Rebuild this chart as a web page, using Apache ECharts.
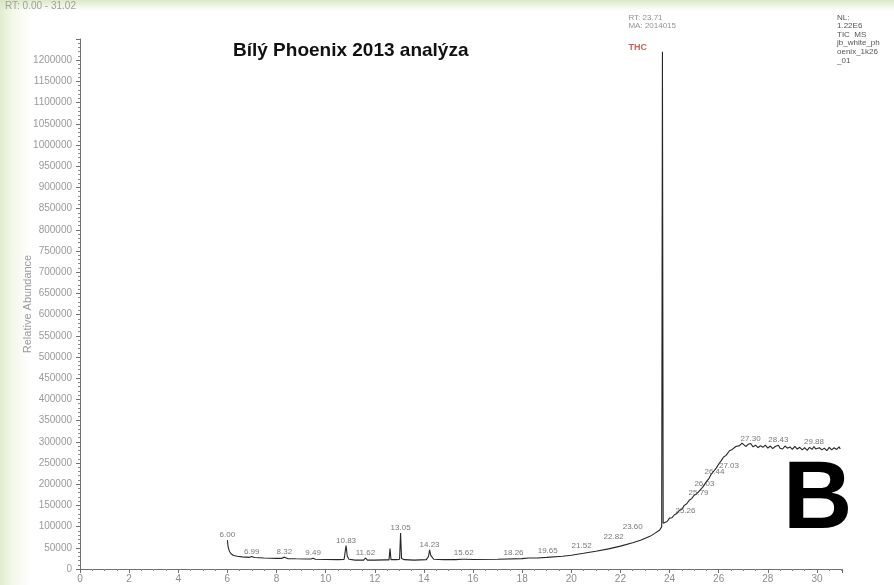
<!DOCTYPE html>
<html>
<head>
<meta charset="utf-8">
<script src="https://cdn.jsdelivr.net/npm/echarts@6/dist/echarts.min.js"></script>
<style>
  html, body { margin: 0; padding: 0; background: #ffffff; }
  #wrap {
    width: 894px; height: 585px; position: relative; overflow: hidden;
    background:
      linear-gradient(to bottom, rgba(214, 228, 192, 0.85) 0px, rgba(255, 255, 255, 0) 11px),
      linear-gradient(to right, #e2ecd0 0px, #f2f7e9 12px, #ffffff 30px);
  }
  #chart { width: 894px; height: 585px; }
</style>
</head>
<body>
<div id="wrap"><div id="chart"></div></div>
<script>
// Total ion chromatogram: retention time (min) and abundance
const rt = [
  6.00, 6.03, 6.08, 6.15, 6.25, 6.40, 6.60, 6.90, 6.99, 7.10, 7.50, 8.00, 8.20, 8.32, 8.45,
  8.80, 9.20, 9.40, 9.49, 9.58, 10.00, 10.50, 10.75, 10.83, 10.88, 10.95, 11.20, 11.55, 11.62,
  11.70, 12.00, 12.40, 12.58, 12.62, 12.66, 12.90, 13.01, 13.05, 13.09, 13.20, 13.60, 14.10,
  14.19, 14.23, 14.28, 14.40, 14.80, 15.30, 15.55, 15.62, 15.70, 16.00, 17.00, 18.00, 18.26,
  18.60, 19.00, 19.65, 20.00, 20.50, 21.00, 21.52, 22.00, 22.50, 22.82, 23.20, 23.40, 23.60,
  23.68, 23.71, 23.74, 23.80, 23.90, 24.00, 24.10, 24.20, 24.30, 24.40, 24.50, 24.60, 24.70,
  24.80, 24.90, 25.00, 25.10, 25.26, 25.35, 25.50, 25.60, 25.70, 25.79, 25.90, 26.03, 26.10,
  26.20, 26.30, 26.44, 26.55, 26.70, 26.85, 26.95, 27.03, 27.10, 27.20, 27.30, 27.40, 27.50,
  27.60, 27.70, 27.80, 27.90, 28.00, 28.10, 28.20, 28.30, 28.43, 28.50, 28.60, 28.70, 28.80,
  28.90, 29.00, 29.10, 29.20, 29.30, 29.40, 29.50, 29.60, 29.70, 29.80, 29.88, 29.95, 30.00,
  30.10, 30.20, 30.30, 30.40, 30.50, 30.60, 30.70, 30.80, 30.90, 30.95
];
const abundance = [
  68000, 52000, 42000, 36000, 32000, 30000, 28500, 27500, 29500, 27000, 26000, 25000, 25000, 28000, 24500,
  24000, 23500, 23500, 25500, 23000, 22500, 22000, 22500, 55000, 30000, 23000, 21000, 21000, 26000,
  21000, 21000, 21500, 21500, 48000, 22000, 22000, 23000, 85000, 25000, 22000, 21000, 22000,
  30000, 45000, 32000, 23000, 22000, 22000, 23000, 26000, 23000, 22500, 23000, 24500, 26000,
  26000, 27500, 30000, 32500, 37000, 42000, 47500, 54000, 62000, 68000, 77000, 84000, 92000,
  100000, 1220000, 108000, 104000, 112000, 120000, 121000, 128000, 131000, 138000, 141000, 150000, 154000,
  162000, 166000, 174000, 177000, 187000, 193000, 206000, 213000, 224000, 230000, 238000, 250000, 255000,
  264000, 268000, 279000, 282000, 289000, 291000, 297000, 293000, 289000, 294000, 296000, 288000, 292000,
  286000, 291000, 287000, 292000, 285000, 290000, 284000, 289000, 292000, 285000, 283000, 290000, 285000,
  288000, 282000, 289000, 283000, 287000, 281000, 286000, 280000, 287000, 282000, 289000, 283000, 279000,
  286000, 281000, 285000, 279000, 287000, 281000, 286000, 282000, 288000, 283000
];

// Retention times that carry a printed label, grouped by where the label sits
const peaksAbove = [6.00, 6.99, 8.32, 9.49, 10.83, 11.62, 13.05, 14.23, 15.62, 27.30, 28.43, 29.88];
const peaksNear = [18.26, 19.65];
const peaksBaseRise = [21.52, 22.82, 23.60];
const peaksRamp = [25.26, 25.79, 26.03, 26.44, 27.03];

// Main peak annotation
const mainPeakRt = 23.71;
const mainPeakName = 'THC';
const mainPeakArea = 'MA: 2014015';

// Axis ranges and ticks
const rtMin = 0, rtMax = 31.02, rtStep = 2;
const abMin = 0, abMax = 1250000, abStep = 50000, abLabelTop = 1200000;

// Header text
const titleText = 'Bílý Phoenix 2013 analýza';
const rangeText = 'RT: 0.00 - 31.02';
const infoLines = ['NL:', '1.22E6', 'TIC  MS', 'jb_white_ph', 'oenix_1k26', '_01'];
const panelLetter = 'B';

const series = rt.map((t, i) => [t, abundance[i]]);
const at = t => [t, abundance[rt.indexOf(t)]];

function labelSeries(list, label) {
  return {
    type: 'scatter',
    symbolSize: 0,
    silent: true,
    data: list.map(at),
    label: Object.assign({
      show: true,
      formatter: p => p.value[0].toFixed(2),
      fontSize: 8,
      fontFamily: 'Liberation Sans',
      color: '#555'
    }, label),
    z: 5
  };
}

const chart = echarts.init(document.getElementById('chart'), null, { renderer: 'canvas' });

chart.setOption({
  animation: false,
  backgroundColor: 'transparent',
  grid: { left: 80, right: 52, top: 39, bottom: 16 },
  xAxis: {
    type: 'value', min: rtMin, max: rtMax, interval: rtStep,
    axisLine: { lineStyle: { color: '#6f6f6f', width: 1 } },
    axisTick: { show: true, length: 4, lineStyle: { color: '#6f6f6f' } },
    minorTick: { show: true, splitNumber: 4, length: 2, lineStyle: { color: '#8a8a8a' } },
    splitLine: { show: false },
    axisLabel: {
      fontSize: 10, color: '#8c8c8c', margin: 5, fontFamily: 'Liberation Sans',
      showMaxLabel: false,
      formatter: v => (Math.abs(v % rtStep) < 1e-9 ? String(v) : '')
    }
  },
  yAxis: {
    type: 'value', min: abMin, max: abMax, interval: abStep,
    name: 'Relative Abundance', nameLocation: 'middle', nameGap: 47,
    nameMoveOverlap: false,
    nameTextStyle: { fontSize: 11, color: '#9a9a9a', fontFamily: 'Liberation Sans' },
    axisLine: { show: true, lineStyle: { color: '#6f6f6f', width: 1 } },
    axisTick: { show: true, length: 4, lineStyle: { color: '#6f6f6f' } },
    minorTick: { show: true, splitNumber: 5, length: 2, lineStyle: { color: '#8a8a8a' } },
    splitLine: { show: false },
    axisLabel: {
      fontSize: 10, color: '#9a9a9a', margin: 8, fontFamily: 'Liberation Sans',
      formatter: v => (v > abLabelTop ? '' : String(v))
    }
  },
  series: [
    {
      type: 'line',
      data: series,
      showSymbol: false,
      symbol: 'none',
      lineStyle: { color: '#262626', width: 1.1 },
      z: 3
    },
    labelSeries(peaksAbove, { position: 'top', distance: 1 }),
    labelSeries(peaksNear, { position: 'top', distance: 1, offset: [-15, 0] }),
    labelSeries(peaksBaseRise, { position: 'top', distance: 1, offset: [-27, 2] }),
    labelSeries(peaksRamp, { position: 'left', distance: 2, offset: [-3, 21] }),
    {
      type: 'scatter',
      symbolSize: 0,
      silent: true,
      data: [at(mainPeakRt)],
      label: {
        show: true,
        position: [-34, -38],
        align: 'left',
        formatter: () => 'RT: ' + mainPeakRt.toFixed(2) + '\n' + mainPeakArea + '\n{thc|' + mainPeakName + '}',
        fontSize: 8, lineHeight: 8, color: '#777', fontFamily: 'Liberation Sans',
        rich: {
          thc: { fontSize: 9, fontWeight: 'bold', color: '#c0392b', lineHeight: 36, fontFamily: 'Liberation Sans' }
        }
      },
      z: 6
    }
  ],
  graphic: [
    {
      type: 'text', left: 5, top: 1,
      style: { text: rangeText, fontSize: 10, fill: '#a0a0a0', fontFamily: 'Liberation Sans' }
    },
    {
      type: 'text', x: 233, y: 51,
      style: {
        text: titleText, fontSize: 19, fontWeight: 'bold', fill: '#111',
        fontFamily: 'Liberation Sans', verticalAlign: 'middle'
      }
    },
    {
      type: 'text', x: 837, y: 13,
      style: {
        text: infoLines.join('\n'), fontSize: 8, lineHeight: 8.6, fill: '#555',
        fontFamily: 'Liberation Sans'
      }
    },
    {
      type: 'text', x: 783, y: 502,
      style: {
        text: panelLetter, fontSize: 96, fontWeight: 'bold', fill: '#000',
        fontFamily: 'Liberation Sans', verticalAlign: 'middle'
      }
    }
  ]
});
</script>
</body>
</html>
